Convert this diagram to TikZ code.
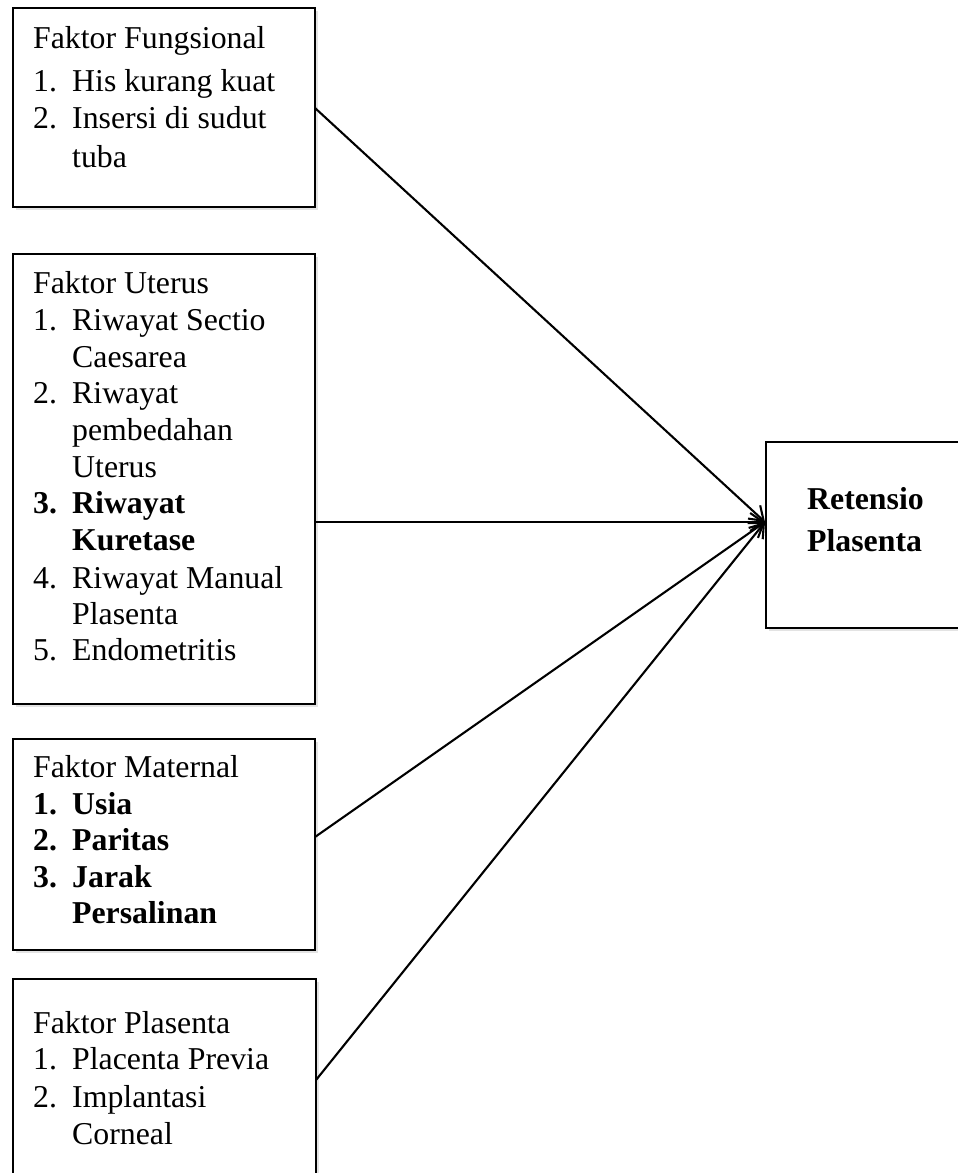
\documentclass[tikz,border=0pt]{standalone}
\usepackage{fontspec}
\setmainfont{Liberation Serif}
\usetikzlibrary{arrows.meta,shadows}
\begin{document}
\begin{tikzpicture}[x=1pt,y=-1pt,
  factorbox/.style={draw=black,line width=2.1pt,fill=white,
    drop shadow={opacity=0.22,shadow xshift=2.5pt,shadow yshift=-2.5pt}},
  txt/.style={anchor=base west,inner sep=0pt,font=\fontsize{31.8}{37}\selectfont},
  btxt/.style={txt,font=\fontsize{31.8}{37}\selectfont\bfseries},
  link/.style={line width=2.1pt,-{Straight Barb[length=13pt,width=18pt,line width=2.1pt]}}]
\useasboundingbox (0,0) rectangle (958,1173);
\clip (0,0) rectangle (958,1173);

% boxes
\draw[factorbox] (13,8) rectangle (315,207);
\draw[factorbox] (13,254) rectangle (315,704);
\draw[factorbox] (13,739) rectangle (315,950);
\draw[factorbox] (13,979) rectangle (316,1200);
\draw[factorbox] (766,442) rectangle (1000,628);

% connector anchors on the box edges
\coordinate (fungsional) at (315,108);
\coordinate (uterus) at (315,522);
\coordinate (maternal) at (315,837);
\coordinate (plasenta) at (316,1080);
\coordinate (retensio) at (765,522);

% Faktor Fungsional
\node[txt] (f0) at (33,48) {Faktor Fungsional};
\node[txt] (f1) at (33,91) {1.};
\node[txt] (f1t) at (72,91) {His kurang kuat};
\node[txt] (f2) at (33,128) {2.};
\node[txt] (f2t) at (72,128) {Insersi di sudut};
\node[txt] (f2u) at (72,167) {tuba};

% Faktor Uterus
\node[txt] (u0) at (33,293) {Faktor Uterus};
\node[txt] (u1) at (33,330) {1.};
\node[txt] (u1t) at (72,330) {Riwayat Sectio};
\node[txt] (u1u) at (72,367) {Caesarea};
\node[txt] (u2) at (33,403) {2.};
\node[txt] (u2t) at (72,403) {Riwayat};
\node[txt] (u2u) at (72,440) {pembedahan};
\node[txt] (u2v) at (72,477) {Uterus};
\node[btxt] (u3) at (33,513) {3.};
\node[btxt] (u3t) at (72,513) {Riwayat};
\node[btxt] (u3u) at (72,550) {Kuretase};
\node[txt] (u4) at (33,588) {4.};
\node[txt] (u4t) at (72,588) {Riwayat Manual};
\node[txt] (u4u) at (72,624) {Plasenta};
\node[txt] (u5) at (33,660) {5.};
\node[txt] (u5t) at (72,660) {Endometritis};

% Faktor Maternal
\node[txt] (m0) at (33,777) {Faktor Maternal};
\node[btxt] (m1) at (33,814) {1.};
\node[btxt] (m1t) at (72,814) {Usia};
\node[btxt] (m2) at (33,850) {2.};
\node[btxt] (m2t) at (72,850) {Paritas};
\node[btxt] (m3) at (33,887) {3.};
\node[btxt] (m3t) at (72,887) {Jarak};
\node[btxt] (m3u) at (72,923) {Persalinan};

% Faktor Plasenta
\node[txt] (p0) at (33,1033) {Faktor Plasenta};
\node[txt] (p1) at (33,1069) {1.};
\node[txt] (p1t) at (72,1069) {Placenta Previa};
\node[txt] (p2) at (33,1107) {2.};
\node[txt] (p2t) at (72,1107) {Implantasi};
\node[txt] (p2u) at (72,1144) {Corneal};

% outcome
\node[btxt] (r1) at (807,509) {Retensio};
\node[btxt] (r2) at (807,551) {Plasenta};

% connectors
\draw[link] (fungsional) -- (retensio);
\draw[link] (uterus) -- (retensio);
\draw[link] (maternal) -- (retensio);
\draw[link] (plasenta) -- (retensio);
\end{tikzpicture}
\end{document}
